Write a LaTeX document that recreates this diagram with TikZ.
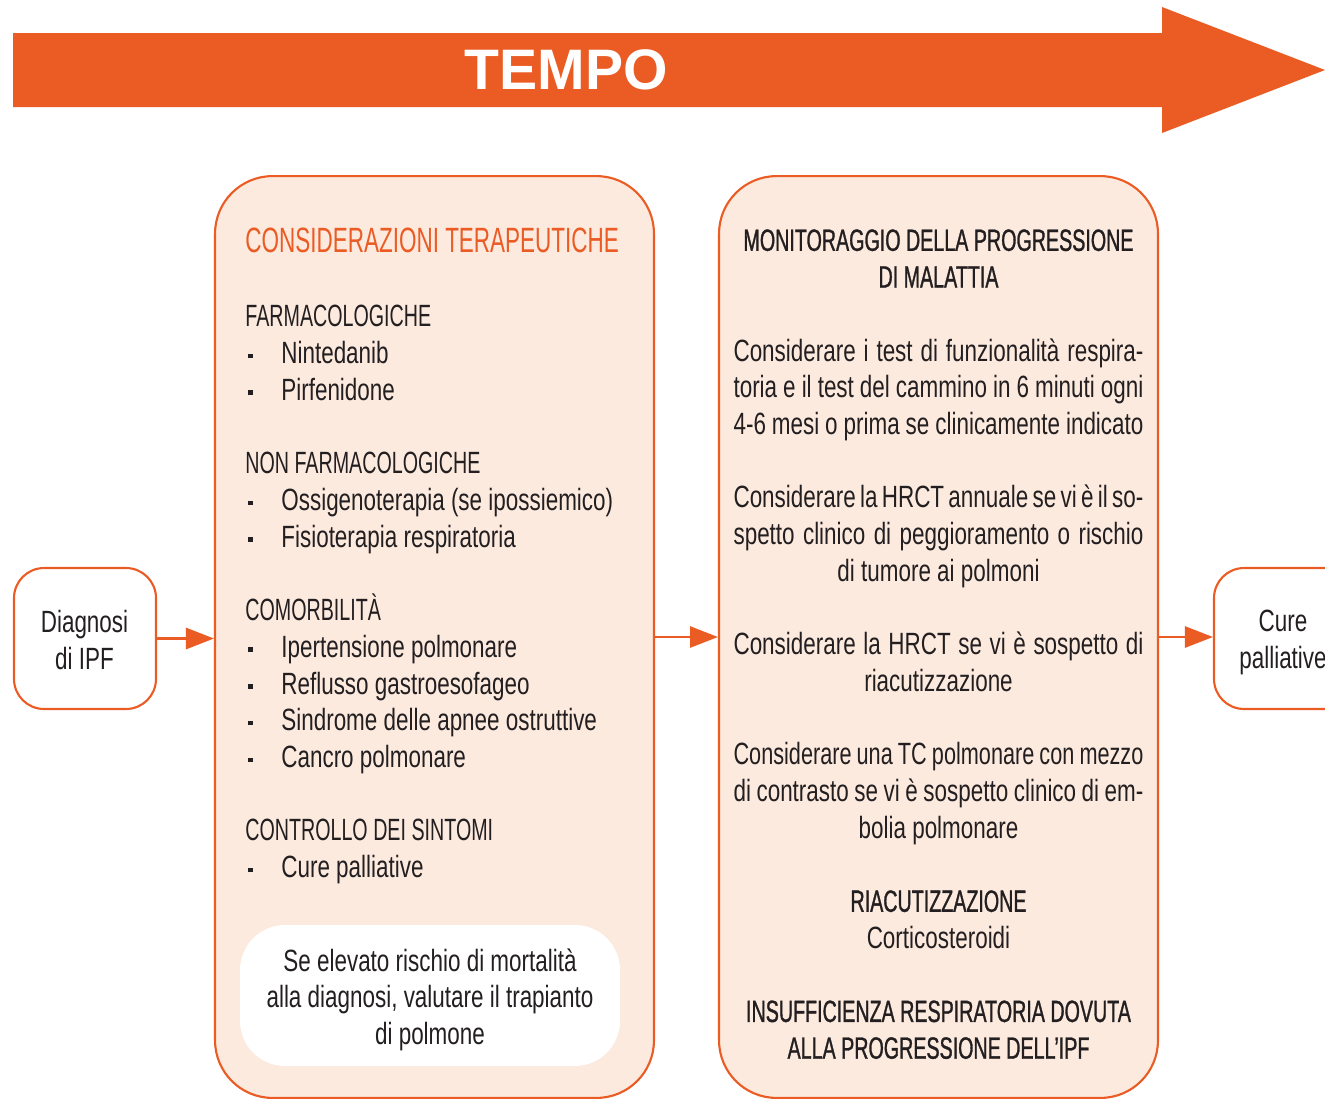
\documentclass[tikz,border=0pt]{standalone}
\usepackage{fontspec}
\setmainfont[FakeStretch=0.73]{Liberation Sans}
\newfontfamily\capsfont[FakeStretch=0.64]{Liberation Sans}
\newfontfamily\headfont[FakeStretch=0.64,FakeBold=1]{Liberation Sans}
\newfontfamily\tightfont[FakeStretch=0.705]{Liberation Sans}
\newfontfamily\tempofont{Liberation Sans}
\usetikzlibrary{arrows.meta,positioning}
\definecolor{ipforange}{HTML}{EB5B24}
\definecolor{ipfpeach}{HTML}{FCEADF}
\definecolor{ipftext}{HTML}{231F20}
\newcommand{\bul}{\makebox[20.5pt][l]{\hspace{1.5pt}\rule[3pt]{2.6pt}{2.6pt}}}
\newcommand{\jline}[1]{\makebox[8.2cm][s]{\spaceskip=0.12em plus 1fill #1}}
\tikzset{
	stagebox/.style={draw=ipforange, line width=1.2pt, rounded corners=0.6cm, minimum width=2.84cm, minimum height=2.82cm},
	bigbox/.style={draw=ipforange, fill=ipfpeach, line width=1.2pt, rounded corners=1.15cm, minimum width=8.78cm, minimum height=18.44cm},
	flow/.style={draw=ipforange, line width=1.6pt, -{Triangle[length=0.56cm,width=0.42cm]}},
	body/.style={text=ipftext, inner sep=0pt, font=\fontsize{17.5}{20.9}\selectfont}
}
\begin{document}
\begin{tikzpicture}[x=0.02cm,y=-0.02cm]
	\useasboundingbox (0,0) rectangle (1325,1100);
	\clip (0,0) rectangle (1325,1100);
	
	\fill[ipforange] (13,33) -- (1162,33) -- (1162,7) -- (1325,70) -- (1162,133) -- (1162,107) -- (13,107) -- cycle;
	\node[text=white, font=\tempofont\bfseries\fontsize{32.5}{32.5}\selectfont] (tempo) at (566,70) {TEMPO};
	
	\node[stagebox] (diagnosi) at (85,638.5) {};
	\node[bigbox] (terapia) at (434.5,637) {};
	\node[bigbox] (monitor) at (938.5,637) {};
	\node[stagebox] (cure) at (1285,638.5) {};
	\node[fill=white, rounded corners=0.9cm, minimum width=7.6cm, minimum height=2.82cm] (trapianto) at (430,995.5) {};
	
	\begin{scope}[every node/.style={body}]
		\node[anchor=north, align=center] (diagnositext) at (84.5,610) {Diagnosi\\di IPF};
		\node[anchor=north, align=center] (curetext) at (1283,610) {Cure\\palliative};
		\node[anchor=north, align=center] (trapiantotext) at (430,948) {Se elevato rischio di mortalità\\alla diagnosi, valutare il trapianto\\di polmone};
		\node[anchor=north west, text=ipforange, font=\capsfont\fontsize{20}{24}\selectfont] (terapiatitle) at (245,228) {CONSIDERAZIONI TERAPEUTICHE};
		\node[anchor=north west, align=left] (terapialist) at (245,305) {{\capsfont FARMACOLOGICHE}\\
			\bul Nintedanib\\
			\bul Pirfenidone\\[20.9pt]
			{\capsfont NON FARMACOLOGICHE}\\
			\bul Ossigenoterapia (se ipossiemico)\\
			\bul Fisioterapia respiratoria\\[20.9pt]
			{\capsfont COMORBILITÀ}\\
			\bul Ipertensione polmonare\\
			\bul Reflusso gastroesofageo\\
			\bul Sindrome delle apnee ostruttive\\
			\bul Cancro polmonare\\[20.9pt]
			{\capsfont CONTROLLO DEI SINTOMI}\\
			\bul Cure palliative};
		\node[anchor=north, align=center] (monitortext) at (938.5,229) {{\headfont MONITORAGGIO DELLA PROGRESSIONE}\\
			{\headfont DI MALATTIA}\\[20.9pt]
			\jline{Considerare i test di funzionalità respira-}\\
			\jline{toria e il test del cammino in 6 minuti ogni}\\
			\jline{4-6 mesi o prima se clinicamente indicato}\\[20.9pt]
			\jline{Considerare la HRCT annuale se vi è il so-}\\
			\jline{spetto clinico di peggioramento o rischio}\\
			di tumore ai polmoni\\[20.9pt]
			\jline{Considerare la HRCT se vi è sospetto di}\\
			riacutizzazione\\[20.9pt]
			\jline{\tightfont Considerare una TC polmonare con mezzo}\\
			\jline{di contrasto se vi è sospetto clinico di em-}\\
			bolia polmonare\\[20.9pt]
			{\headfont RIACUTIZZAZIONE}\\
			Corticosteroidi\\[20.9pt]
			{\headfont INSUFFICIENZA RESPIRATORIA DOVUTA}\\
			{\headfont ALLA PROGRESSIONE DELL’IPF}};
	\end{scope}
	
	\draw[flow] (diagnosi.east) -- (diagnosi.east -| terapia.west);
	\draw[flow] (terapia.east) -- (monitor.west);
	\draw[flow] (monitor.east) -- (monitor.east -| cure.west);
\end{tikzpicture}
\end{document}
